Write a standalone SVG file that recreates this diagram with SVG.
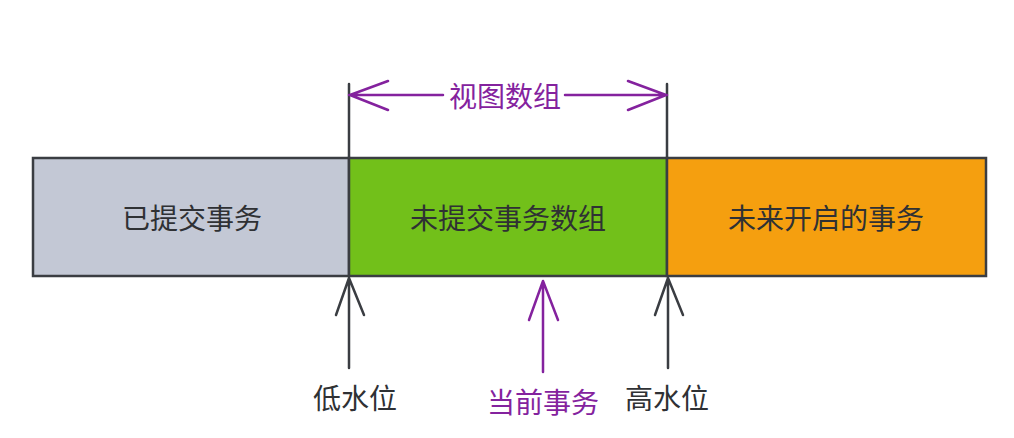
<svg xmlns="http://www.w3.org/2000/svg" width="1014" height="438" viewBox="0 0 1014 438">
<style>
.box{stroke:#3a3d42;stroke-width:2.5}
.t{font-family:"Noto Sans CJK SC","Noto Sans",sans-serif;font-size:28px;text-anchor:middle;dominant-baseline:central;fill:#2f3134}
.p{fill:#84229e}
.ln{fill:none;stroke:#3a3d42;stroke-width:2.5;stroke-linecap:round;stroke-linejoin:round}
.pl{fill:none;stroke:#84229e;stroke-width:2.5;stroke-linecap:round;stroke-linejoin:round}
</style>
<rect width="1014" height="438" fill="#ffffff"/>
<g id="committed"><rect class="box" x="33" y="158" width="316" height="118" fill="#c3c8d5"/><text class="t" x="192" y="217">已提交事务</text></g>
<g id="uncommitted"><rect class="box" x="349" y="158" width="318" height="118" fill="#72c01a"/><text class="t" x="508" y="217">未提交事务数组</text></g>
<g id="future"><rect class="box" x="667" y="158" width="319" height="118" fill="#f59f0f"/><text class="t" x="826" y="217">未来开启的事务</text></g>
<g id="connectors">
<path class="ln" d="M349 84V158M667 84V158"/>
<path class="pl" d="M349 95H443M565 95H667M388 81L350 95L388 110M628 81L666 95L628 110"/>
<path class="ln" d="M349 278V368M336 315L349 278L364 315"/>
<path class="ln" d="M668 278V368M655 315L668 278L683 315"/>
<path class="pl" d="M543 281V372M529 320L543 281L558 320"/>
</g>
<g id="label-view"><text class="t p" x="505" y="95">视图数组</text></g>
<g id="label-low"><text class="t" x="355" y="397">低水位</text></g>
<g id="label-cur"><text class="t p" x="543" y="401">当前事务</text></g>
<g id="label-high"><text class="t" x="667" y="397">高水位</text></g>
</svg>
